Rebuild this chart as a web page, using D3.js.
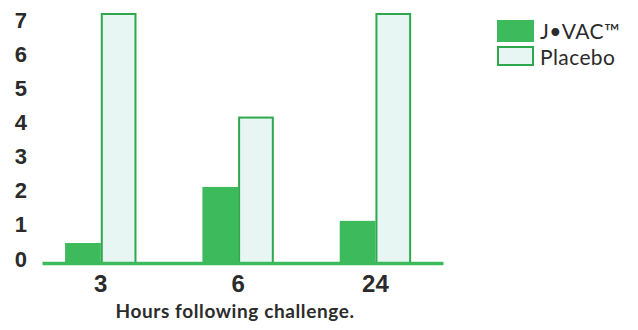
<!DOCTYPE html>
<html><head><meta charset="utf-8">
<script src="https://cdn.jsdelivr.net/npm/d3@7"></script>
<style>
html,body{margin:0;padding:0;background:#fff;}
svg{display:block;}
</style></head>
<body><svg id="c" width="638" height="330"></svg>
<script>
const categories = ["3", "6", "24"];
const seriesNames = ["J•VAC™", "Placebo"];
const jvacValues = [0.56, 2.13, 1.18];
const placeboValues = [7, 4.1, 7];
const yTicks = [0, 1, 2, 3, 4, 5, 6, 7];
const xTitle = "Hours following challenge.";

const green = "#3dba5c", greenStroke = "#2fa84b", pale = "#e7f6f3", ink = "#2b2b2b";
const svg = d3.select("#c");

const x = d3.scaleBand().domain(categories).range([42, 443])
  .paddingInner(0.48).paddingOuter(0.2).align(0.42);
const xi = d3.scaleBand().domain(seriesNames).range([0, x.bandwidth()]);
const y = d3.scaleLinear().domain([0, 7]).range([263, 13]);
const yLab = d3.scaleLinear().domain([0, 7]).range([259, 20]);

const data = categories.map((c, i) => ({cat: c, vals: [jvacValues[i], placeboValues[i]]}));

const g = svg.append("g");
data.forEach(d => {
  d.vals.forEach((v, k) => {
    const name = seriesNames[k];
    const x0 = x(d.cat) + xi(name);
    if (k === 0) {
      g.append("rect").attr("x", x0).attr("y", y(v)).attr("width", xi.bandwidth())
        .attr("height", y(0) - y(v)).attr("fill", green);
    } else {
      g.append("rect").attr("x", x0 + 1).attr("y", y(v) + 1).attr("width", xi.bandwidth() - 2)
        .attr("height", y(0) - y(v) - 1).attr("fill", pale)
        .attr("stroke", greenStroke).attr("stroke-width", 2);
    }
  });
});

// x axis
const xAxis = svg.append("g").attr("transform", `translate(0,${y(0)})`)
  .call(d3.axisBottom(x).tickSize(0).tickPadding(12));
xAxis.select(".domain").attr("stroke", green).attr("stroke-width", 3.5);
xAxis.selectAll(".tick text")
  .attr("transform", d => `translate(${-x.bandwidth()/2 + xi.bandwidth()},0)`)
  .attr("font-family", "Liberation Sans, Arial, sans-serif").attr("font-weight", "bold")
  .attr("font-size", 24).attr("fill", ink);

// y labels
const yAxis = svg.append("g").attr("transform", "translate(27,0)")
  .call(d3.axisLeft(yLab).tickValues(yTicks).tickSize(0).tickPadding(0).tickFormat(d3.format("d")));
yAxis.select(".domain").remove();
yAxis.selectAll(".tick text")
  .attr("font-family", "Liberation Sans, Arial, sans-serif").attr("font-weight", "bold")
  .attr("font-size", 22).attr("fill", ink);

// x title
svg.append("text").attr("x", 235).attr("y", 318).attr("text-anchor", "middle")
  .attr("font-family", "Lato, sans-serif").attr("font-weight", "bold")
  .attr("font-size", 19).attr("letter-spacing", 0.6).attr("fill", ink).text(xTitle);

// legend
const leg = svg.append("g").attr("transform", "translate(497,20)");
seriesNames.forEach((n, i) => {
  const row = leg.append("g").attr("transform", `translate(0,${i * 26})`);
  if (i === 0) row.append("rect").attr("width", 37).attr("height", 22).attr("fill", green);
  else row.append("rect").attr("x", 1).attr("y", 1).attr("width", 35).attr("height", 18)
    .attr("fill", pale).attr("stroke", greenStroke).attr("stroke-width", 2);
  row.append("text").attr("x", 43).attr("y", 19)
    .attr("font-family", "Lato, sans-serif").attr("font-weight", 400)
    .attr("font-size", 21).attr("letter-spacing", 0.4).attr("fill", ink).text(n);
});
</script></body></html>
